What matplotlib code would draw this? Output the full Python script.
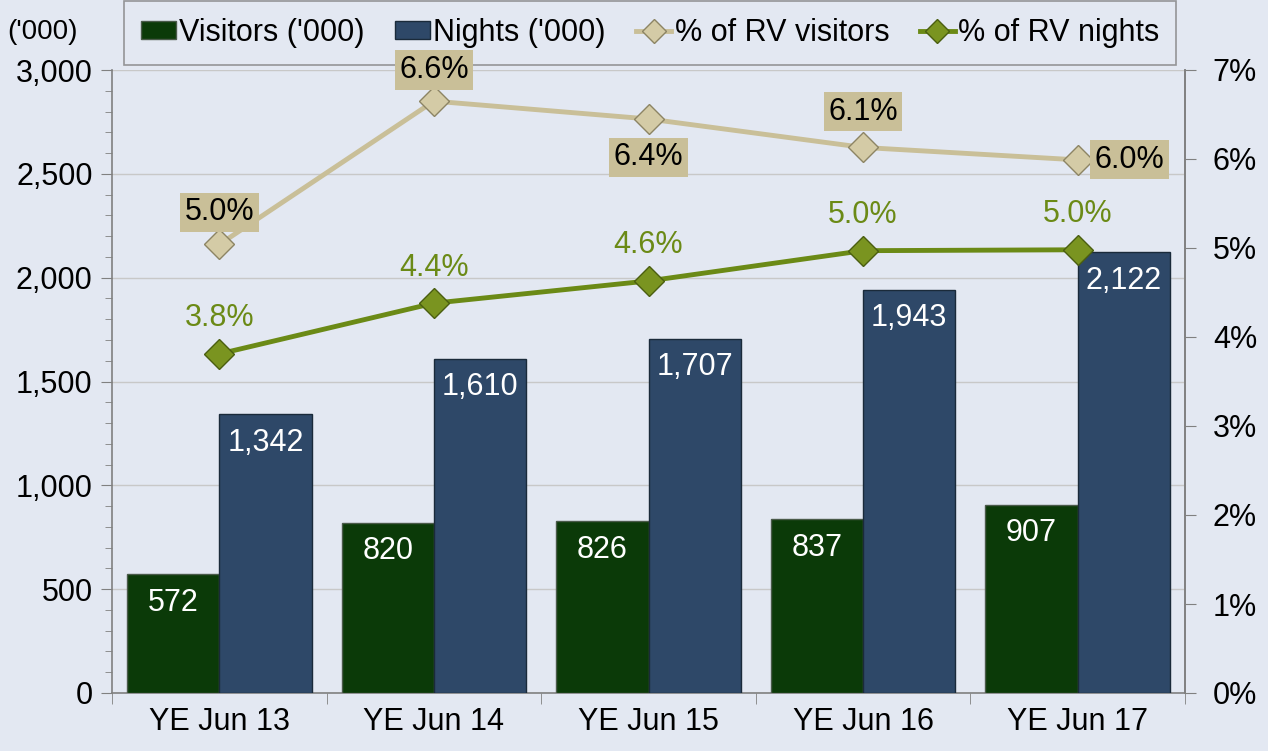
import matplotlib.pyplot as plt
import numpy as np

categories = ["YE Jun 13", "YE Jun 14", "YE Jun 15", "YE Jun 16", "YE Jun 17"]
visitors = [572, 820, 826, 837, 907]
nights = [1342, 1610, 1707, 1943, 2122]
pct_visitors = [5.04, 6.65, 6.45, 6.13, 5.99]
pct_nights = [3.81, 4.38, 4.63, 4.97, 4.98]
pct_visitors_labels = ["5.0%", "6.6%", "6.4%", "6.1%", "6.0%"]
pct_nights_labels = ["3.8%", "4.4%", "4.6%", "5.0%", "5.0%"]

bg = "#e3e8f2"
green_bar = "#0b3a08"
blue_bar = "#2e4868"
tan = "#c9bf98"
olive = "#6b8a16"

plt.rcParams["font.family"] = ["Liberation Sans", "DejaVu Sans"]

fig = plt.figure(figsize=(12.68, 7.51), dpi=100, facecolor=bg)
ax = fig.add_axes([112/1268, 58/751, 1073/1268, 623/751])
ax.set_facecolor(bg)

x = np.arange(len(categories))
width = 0.43

b1 = ax.bar(x - width/2, visitors, width, color=green_bar, edgecolor="#4a5a4a",
            linewidth=1, label="Visitors ('000)", zorder=3)
b2 = ax.bar(x + width/2, nights, width, color=blue_bar, edgecolor="#1a2a3a",
            linewidth=1, label="Nights ('000)", zorder=3)

# bar value labels
for i, v in enumerate(visitors):
    ax.text(i - width/2, v - 65, f"{v:,}", ha="center", va="top",
            color="white", fontsize=22, zorder=4)
for i, v in enumerate(nights):
    ax.text(i + width/2, v - 65, f"{v:,}", ha="center", va="top",
            color="white", fontsize=22, zorder=4)

ax.set_xlim(-0.5, len(categories) - 0.5)
ax.set_ylim(0, 3000)
ax.set_yticks(np.arange(0, 3001, 500))
ax.set_yticks(np.arange(0, 3001, 100), minor=True)
ax.set_yticklabels([f"{int(t):,}" for t in np.arange(0, 3001, 500)])
ax.set_xticks(x)
ax.set_xticklabels(categories)
ax.set_xticks(np.arange(-0.5, len(categories)), minor=True)
ax.tick_params(axis="x", which="major", length=0, labelsize=22, pad=10)
ax.tick_params(axis="x", which="minor", length=8, color="#808080")
ax.tick_params(axis="y", which="major", length=8, labelsize=22, color="#808080", pad=6)
ax.tick_params(axis="y", which="minor", length=5, color="#808080")
ax.grid(axis="y", color="#c8c8c8", linewidth=1, zorder=0)
ax.spines["top"].set_visible(False)
for s in ["left", "bottom", "right"]:
    ax.spines[s].set_color("#808080")
    ax.spines[s].set_linewidth(1.2)

ax2 = ax.twinx()
ax2.set_ylim(0, 7)
ax2.set_yticks(np.arange(0, 8, 1))
ax2.set_yticklabels([f"{t}%" for t in range(0, 8)])
ax2.tick_params(axis="y", length=8, labelsize=22, color="#808080", pad=12)
for s in ["top", "left", "bottom"]:
    ax2.spines[s].set_visible(False)
ax2.spines["right"].set_color("#808080")
ax2.spines["right"].set_linewidth(1.2)

l1, = ax2.plot(x, pct_visitors, color=tan, linewidth=3.5, marker="D", markersize=15,
               markerfacecolor="#d4cba6", markeredgecolor="#8c8464",
               label="% of RV visitors", zorder=5)
l2, = ax2.plot(x, pct_nights, color=olive, linewidth=3.5, marker="D", markersize=15,
               markerfacecolor="#7a9420", markeredgecolor="#4a5e10",
               label="% of RV nights", zorder=5)

# visitor % labels in tan boxes
offsets = [(0, 0.36), (0, 0.35), (0, -0.43), (0, 0.40), (0.08, 0.0)]
for i, (v, lab) in enumerate(zip(pct_visitors, pct_visitors_labels)):
    dx, dy = offsets[i]
    ax2.text(i + dx, v + dy, lab, ha="center" if dx == 0 else "left", va="center",
             fontsize=22, color="black", zorder=6,
             bbox=dict(boxstyle="square,pad=0.15", facecolor=tan, edgecolor="none"))
for i, (v, lab) in enumerate(zip(pct_nights, pct_nights_labels)):
    ax2.text(i, v + 0.40, lab, ha="center", va="center", fontsize=22,
             color=olive, zorder=6)

ax.set_zorder(1)
ax2.set_zorder(2)
ax2.patch.set_visible(False)

fig.text(7/1268, 1 - 32/751, "('000)", fontsize=20, va="center", ha="left")

# legend drawn under the data labels, like the original
leg = ax2.legend(handles=[b1, b2, l1, l2], loc="center", ncol=4,
                 bbox_to_anchor=(650/1268, 1 - 33/751),
                 bbox_transform=fig.transFigure,
                 fontsize=22, frameon=True, fancybox=False, markerscale=0.8,
                 handlelength=1.15, handleheight=0.5, handletextpad=0.1,
                 columnspacing=1.0, borderpad=0.55)
leg.set_zorder(1)
leg.get_frame().set_edgecolor("#808080")
leg.get_frame().set_facecolor(bg)
leg.get_frame().set_linewidth(1.2)

fig.savefig("out.png", dpi=100, facecolor=bg)
